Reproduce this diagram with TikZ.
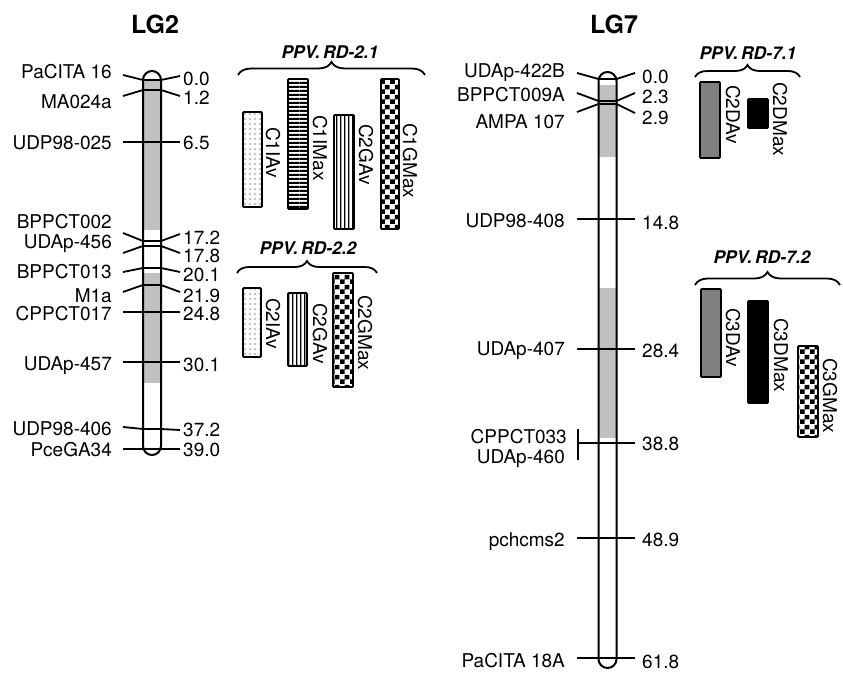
\documentclass[tikz,border=0pt]{standalone}
\usepackage{fontspec}
\setmainfont{TeX Gyre Heros}
\usepackage{xcolor}
\definecolor{cInk}{HTML}{000000}
\definecolor{cBand}{HTML}{C0C0C0}
\definecolor{cAvg}{HTML}{808080}
\usepackage{tikz}
\usetikzlibrary{decorations.pathreplacing,patterns}
\newcommand{\lblfont}{\fontsize{19}{21}\selectfont}
\newcommand{\lgfont}{\fontsize{25}{28}\selectfont\bfseries}
\newcommand{\qtlfont}{\fontsize{17.5}{20}\selectfont\bfseries\itshape}
% fill patterns of the QTL bars
\pgfdeclarepatternformonly{qtl-dotfill}{\pgfqpoint{-1pt}{-1pt}}{\pgfqpoint{1pt}{1pt}}%
  {\pgfqpoint{5pt}{5pt}}{\pgfpathcircle{\pgfpointorigin}{0.6pt}\pgfusepath{fill}}
\pgfdeclarepatternformonly{qtl-hfill}{\pgfpointorigin}{\pgfqpoint{300pt}{4.2pt}}%
  {\pgfqpoint{300pt}{4.2pt}}{\pgfpathrectangle{\pgfpointorigin}{\pgfqpoint{300pt}{2.4pt}}\pgfusepath{fill}}
\pgfdeclarepatternformonly{qtl-vfill}{\pgfpointorigin}{\pgfqpoint{4pt}{300pt}}%
  {\pgfqpoint{4pt}{300pt}}{\pgfpathrectangle{\pgfpointorigin}{\pgfqpoint{1.5pt}{300pt}}\pgfusepath{fill}}
\pgfdeclarepatternformonly{qtl-checkfill}{\pgfpointorigin}{\pgfqpoint{10pt}{10pt}}%
  {\pgfqpoint{10pt}{10pt}}{\pgfpathrectangle{\pgfpointorigin}{\pgfqpoint{5pt}{5pt}}%
  \pgfpathrectangle{\pgfqpoint{5pt}{5pt}}{\pgfqpoint{5pt}{5pt}}\pgfusepath{fill}}
\tikzset{
  chrom-body/.style={draw=cInk,line width=2pt,rounded corners=9pt},
  chrom-band/.style={fill=cBand,draw=none},
  mark-line/.style={draw=cInk,line width=1.8pt},
  mark-name/.style={anchor=base east,inner sep=0pt,font=\lblfont,yshift=-6.8pt},
  mark-pos/.style={anchor=base west,inner sep=0pt,font=\lblfont,yshift=-6.8pt},
  lg-title/.style={font=\lgfont,inner sep=0pt},
  qtl-title/.style={font=\qtlfont,inner sep=0pt},
  qtl-brace/.style={decorate,decoration={brace,amplitude=#1},draw=cInk,line width=1.8pt},
  qtl-box/.style={draw=cInk,line width=1.8pt,rounded corners=0.8pt},
  qtl-dots/.style={qtl-box,pattern=qtl-dotfill},
  qtl-hlines/.style={qtl-box,pattern=qtl-hfill},
  qtl-vlines/.style={qtl-box,pattern=qtl-vfill},
  qtl-check/.style={qtl-box,pattern=qtl-checkfill},
  qtl-gray/.style={qtl-box,fill=cAvg},
  qtl-black/.style={qtl-box,fill=cInk},
  qtl-text/.style={rotate=-90,anchor=base west,inner sep=0pt,font=\lblfont},
}

\begin{document}
\begin{tikzpicture}[x=1pt,y=-1pt]
  \useasboundingbox (0,0) rectangle (843,674);

  % LG2
  \node[lg-title] (lg2) at (155,24) {LG2};
  \fill[chrom-band] (143,80) rectangle (161,230);
  \fill[chrom-band] (143,273) rectangle (161,383);
  \foreach \i/\name/\num/\ny/\yl/\ym/\yr/\nv in {
      1/PaCITA 16/0.0/72/75/80/76/79,
      2/MA024a/1.2/102/96/90/96/98,
      3/UDP98-025/6.5/143/142/142/142/143,
      4/BPPCT002/17.2/222/233/241/234/238,
      5/UDAp-456/17.8/242/253/246/253/256,
      6/BPPCT013/20.1/272/272/268/272/275,
      7/M1a/21.9/296/292/285/292/296,
      8/CPPCT017/24.8/314/312/312/312/314,
      9/UDAp-457/30.1/364/362/362/362/365,
      10/UDP98-406/37.2/429/427/429/430/430,
      11/PceGA34/39.0/450/449/449/449/450} {
    \node[mark-name] (lg2-n\i) at (112,\ny) {\name};
    \node[mark-pos] (lg2-p\i) at (183,\nv) {\num};
    \draw[mark-line] (123,\yl) -- (143,\ym) -- (161,\ym) -- (180,\yr);
  }
  \draw[chrom-body] (143,71) rectangle (161,455);

  % LG7
  \node[lg-title] (lg7) at (614,24) {LG7};
  \fill[chrom-band] (598.5,85) rectangle (616.5,157);
  \fill[chrom-band] (598.5,288) rectangle (616.5,438);
  \foreach \i/\name/\num/\ny/\yl/\ym/\yr/\nv in {
      1/UDAp-422B/0.0/71/73/79/73/77,
      2/BPPCT009A/2.3/95/93/101/93/97,
      3/AMPA 107/2.9/122/112/104/113/118,
      4/UDP98-408/14.8/221/219/219/219/223,
      5/UDAp-407/28.4/349/349/349/349/351,
      6/pchcms2/48.9/540/538/538/538/540,
      7/PaCITA 18A/61.8/661/658/658/658/662} {
    \node[mark-name] (lg7-n\i) at (565,\ny) {\name};
    \node[mark-pos] (lg7-p\i) at (642,\nv) {\num};
    \draw[mark-line] (577,\yl) -- (598.5,\ym) -- (616.5,\ym) -- (635,\yr);
  }
  \node[mark-name] (lg7-n8) at (567,437) {CPPCT033};
  \node[mark-name] (lg7-n9) at (565,457) {UDAp-460};
  \node[mark-pos] (lg7-p8) at (642,444) {38.8};
  \draw[mark-line] (578,429) -- (578,460);
  \draw[mark-line] (578,443) -- (635,443);
  \draw[chrom-body] (598.5,72) rectangle (616.5,668);

  % QTL brackets
  \node[qtl-title] (rd21) at (330,52) {PPV.\,RD-2.1};
  \draw[qtl-brace=13pt] (238,75) -- (425,75);
  \node[qtl-title] (rd22) at (308,248) {PPV.\,RD-2.2};
  \draw[qtl-brace=12pt] (237,273) -- (377,273);
  \node[qtl-title] (rd71) at (748,53) {PPV.\,RD-7.1};
  \draw[qtl-brace=12pt] (695,77) -- (800,77);
  \node[qtl-title] (rd72) at (762,257) {PPV.\,RD-7.2};
  \draw[qtl-brace=13pt] (695,285) -- (840,285);

  % QTL bars
  \foreach \i/\name/\sty/\xa/\ya/\xb/\yb/\tx/\ty in {
      1/C1IAv/qtl-dots/243/112/262/207/266/127,
      2/C1IMax/qtl-hlines/288/79/308/209/313/115,
      3/C2GAv/qtl-vlines/334/115/354/229/359/124,
      4/C1GMax/qtl-check/381/79/399/229/403/123,
      5/C2IAv/qtl-dots/243/288/261/357/266/298,
      6/C2GAv/qtl-vlines/288/293/307/366/313/303,
      7/C2GMax/qtl-check/333/273/353/387/358/295,
      8/C2DAv/qtl-gray/700/82/720/158/726/85,
      9/C2DMax/qtl-black/748/99/768/128/773/82,
      10/C3DAv/qtl-gray/701/289/721/377/726/308,
      11/C3DMax/qtl-black/748/301/768/403/774/318,
      12/C3GMax/qtl-check/798/346/818/437/823/358} {
    \path[\sty] (\xa,\ya) rectangle (\xb,\yb);
    \node[qtl-text] (bar\i) at (\tx,\ty) {\name};
  }
\end{tikzpicture}
\end{document}
